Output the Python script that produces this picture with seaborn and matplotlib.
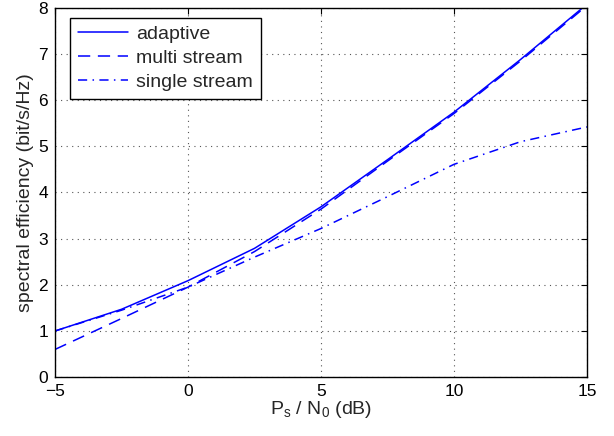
import matplotlib
matplotlib.use("Agg")
import matplotlib.pyplot as plt
import seaborn as sns
import pandas as pd

snr_db = [-5, -2.5, 0, 2.5, 5, 7.5, 10, 12.5, 15]
adaptive = [1.00, 1.47, 2.09, 2.79, 3.69, 4.71, 5.74, 6.88, 8.08]
multi_stream = [0.60, 1.27, 1.95, 2.72, 3.64, 4.68, 5.71, 6.85, 8.05]
single_stream = [1.00, 1.45, 1.95, 2.60, 3.22, 3.91, 4.61, 5.10, 5.42]
labels = ["adaptive", "multi stream", "single stream"]
x_ticks = [-5, 0, 5, 10, 15]
y_ticks = [0, 1, 2, 3, 4, 5, 6, 7, 8]

sns.set_theme(style="white")
plt.rcParams["font.family"] = ["Liberation Sans", "DejaVu Sans"]
plt.rcParams["mathtext.fontset"] = "custom"
plt.rcParams["mathtext.rm"] = "Liberation Sans"
plt.rcParams["mathtext.it"] = "Liberation Sans"

fig = plt.figure(figsize=(6.14, 4.36), dpi=100)
ax = fig.add_axes([0.0896, 0.135, 0.8664, 0.847])

series = [adaptive, multi_stream, single_stream]
styles = ["-", (0, (8, 5)), (0, (6, 3.5, 1, 3.5))]
for vals, lab, ls in zip(series, labels, styles):
    df = pd.DataFrame({"x": snr_db, "y": vals})
    sns.lineplot(data=df, x="x", y="y", ax=ax, color=(0, 0, 1), linewidth=1.1,
                 linestyle=ls, label=lab)

ax.set_xlim(-5, 15)
ax.set_ylim(0, 8)
ax.set_xticks(x_ticks)
ax.set_yticks(y_ticks)
ax.grid(True, linestyle=(0, (1, 4)), color="#555555", linewidth=0.8)
for s in ax.spines.values():
    s.set_color("black")
    s.set_linewidth(1.0)
    s.set_visible(True)
ax.tick_params(direction="in", length=4, width=0.8, top=True, right=True,
               labelsize=12.5, colors="black", pad=5)
ax.set_xlabel("P$_\\mathregular{s}$ / N$_\\mathregular{0}$ (dB)", fontsize=14, labelpad=0)
ax.set_ylabel("spectral efficiency (bit/s/Hz)", fontsize=14, labelpad=3)

leg = ax.legend(loc="upper left", bbox_to_anchor=(0.028, 0.973), fontsize=14,
                frameon=True, fancybox=False, edgecolor="black", framealpha=1,
                handlelength=2.6, borderaxespad=0, labelspacing=0.33,
                borderpad=0.4, handletextpad=0.4)
leg.get_frame().set_linewidth(1.0)

fig.savefig("out.png", dpi=100)
